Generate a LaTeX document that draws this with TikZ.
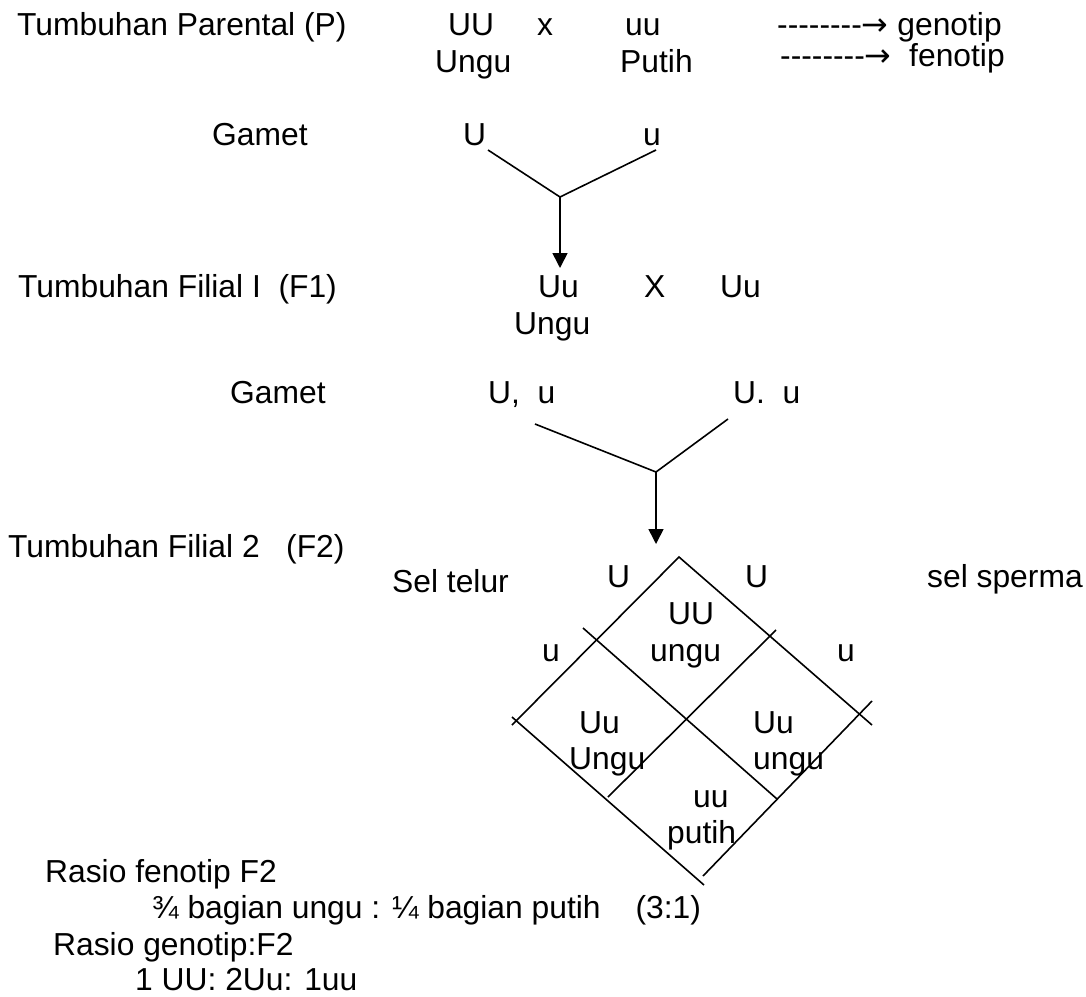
\documentclass[tikz,border=0pt]{standalone}
\usepackage{fontspec}
\setmainfont{Liberation Sans}
\newfontfamily\arrowfont{DejaVu Sans}
\usetikzlibrary{arrows.meta}
\newcommand\hy{\mbox{-}}
\newcommand\darrow{\hy\hy\hy\hy\hy\hy\hy\hy{\arrowfont →}}
\begin{document}
\begin{tikzpicture}[x=1pt,y=-1pt,
  lbl/.style={inner sep=0pt, anchor=base west, font=\fontsize{31.8}{38}\selectfont},
  ln/.style={line width=1.6pt},
  arr/.style={line width=1.6pt, -{Triangle[width=15pt,length=15pt]}}]
\useasboundingbox (0,0) rectangle (1086,996);
% Parental
\node[lbl] (tp) at (17,35) {Tumbuhan Parental (P)};
\node[lbl] (pUU) at (448,35) {UU};
\node[lbl] (px) at (537,35) {x};
\node[lbl] (puu) at (625,35) {uu};
\node[lbl] (geno) at (777,35) {\darrow{} genotip};
\node[lbl] (pungu) at (435,72) {Ungu};
\node[lbl] (pputih) at (620,72) {Putih};
\node[lbl] (feno) at (780,66) {\darrow{}\ \ fenotip};
% Gamet 1
\node[lbl] (g1) at (212,145) {Gamet};
\node[lbl] (g1U) at (463,145) {U};
\node[lbl] (g1u) at (643,145) {u};
\coordinate (y1a) at (488,150);
\coordinate (y1b) at (656,150);
\coordinate (y1j) at (560,197);
\coordinate (y1t) at (560,268);
\draw[ln] (y1a) -- (y1j) -- (y1b);
\draw[arr] (y1j) -- (y1t);
% F1
\node[lbl] (tf1) at (18,297) {Tumbuhan Filial I\ \ (F1)};
\node[lbl] (f1a) at (538,297) {Uu};
\node[lbl] (f1x) at (644,297) {X};
\node[lbl] (f1b) at (720,297) {Uu};
\node[lbl] (f1ungu) at (514,334) {Ungu};
% Gamet 2
\node[lbl] (g2) at (230,403) {Gamet};
\node[lbl] (g2a) at (488,403) {U,\ \ u};
\node[lbl] (g2b) at (733,403) {U.\ \ u};
\coordinate (y2a) at (535,424);
\coordinate (y2b) at (728,419);
\coordinate (y2j) at (656,472);
\coordinate (y2t) at (656,544);
\draw[ln] (y2a) -- (y2j) -- (y2b);
\draw[arr] (y2j) -- (y2t);
% F2
\node[lbl] (tf2) at (8,557) {Tumbuhan Filial 2\ \ \ (F2)};
\node[lbl] (st) at (392,592) {Sel telur};
\node[lbl] (sU1) at (607,587) {U};
\node[lbl] (sU2) at (745,587) {U};
\node[lbl] (sp) at (927,587) {sel sperma};
\node[lbl] (su1) at (542,661) {u};
\node[lbl] (su2) at (837,661) {u};
% Punnett diamond
\coordinate (dT) at (679,557);
\coordinate (dLa) at (512,725);
\coordinate (dLb) at (512,717);
\coordinate (dRe) at (872,725);
\coordinate (dRb) at (872,701);
\coordinate (dMl) at (583,628);
\coordinate (dMr) at (777,799);
\coordinate (dNl) at (608,797);
\coordinate (dNr) at (776,630);
\coordinate (dBl) at (704,885);
\coordinate (dBr) at (703,876);
\draw[ln] (dLa) -- (dT) -- (dRe);
\draw[ln] (dMl) -- (dMr);
\draw[ln] (dLb) -- (dBl);
\draw[ln] (dNl) -- (dNr);
\draw[ln] (dBr) -- (dRb);
\node[lbl] (c1a) at (668,624) {UU};
\node[lbl] (c1b) at (650,661) {ungu};
\node[lbl] (c2a) at (579,733) {Uu};
\node[lbl] (c2b) at (569,769) {Ungu};
\node[lbl] (c3a) at (753,733) {Uu};
\node[lbl] (c3b) at (753,769) {ungu};
\node[lbl] (c4a) at (693,807) {uu};
\node[lbl] (c4b) at (667,843) {putih};
% Ratios
\node[lbl] (r1) at (45,882) {Rasio fenotip F2};
\node[lbl] (r1v) at (152,918) {¾ bagian ungu : ¼ bagian putih\hspace{35pt}(3:1)};
\node[lbl] (r2) at (53,955) {Rasio genotip:F2};
\node[lbl] (r2v) at (135,990) {1 UU: 2Uu: 1uu};
\end{tikzpicture}
\end{document}
